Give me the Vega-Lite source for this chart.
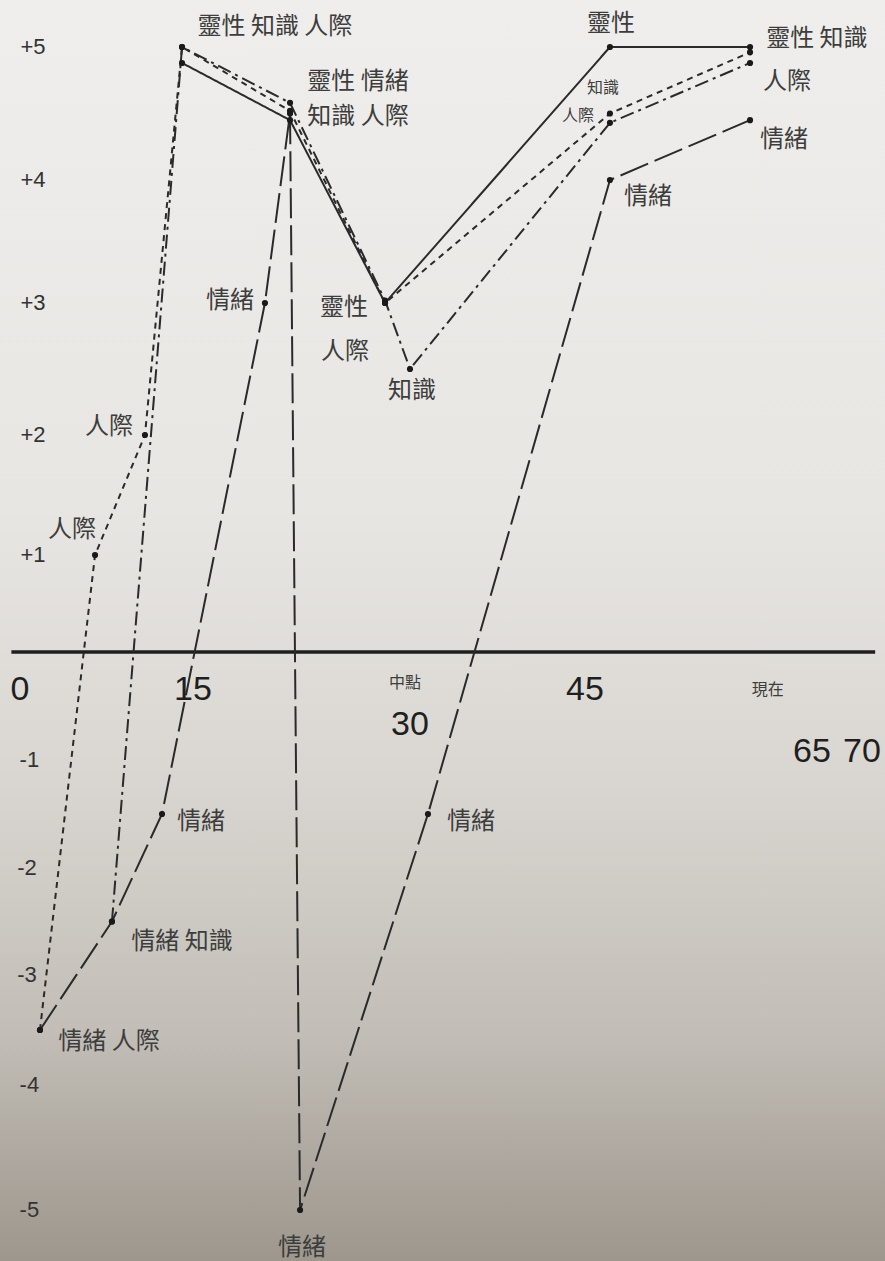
{
  "$schema": "https://vega.github.io/schema/vega-lite/v6.json",
  "width": 885,
  "height": 1261,
  "autosize": {"type": "none"},
  "padding": 0,
  "background": "#dcd9d4",
  "config": {
    "axis": {"disable": true},
    "view": {
      "stroke": null,
      "fill": {
        "gradient": "linear", "x1": 0, "y1": 0, "x2": 0, "y2": 1,
        "stops": [
          {"offset": 0, "color": "#efeeec"},
          {"offset": 0.4, "color": "#e8e6e3"},
          {"offset": 0.62, "color": "#d9d6d1"},
          {"offset": 0.82, "color": "#c2bdb6"},
          {"offset": 1, "color": "#9d978d"}
        ]
      }
    }
  },
  "datasets": {
    "axisline": [
      {"from": -0.3, "to": 71.4, "level": 0}
    ],
    "series": [
      {"series": "靈性", "age": 13.92, "value": 4.88},
      {"series": "靈性", "age": 21.63, "value": 4.45},
      {"series": "靈性", "age": 28.26, "value": 3.0},
      {"series": "靈性", "age": 47.17, "value": 5.0},
      {"series": "靈性", "age": 59.35, "value": 5.0},
      {"series": "知識", "age": 8.08, "value": -2.5},
      {"series": "知識", "age": 13.92, "value": 5.0},
      {"series": "知識", "age": 21.63, "value": 4.58},
      {"series": "知識", "age": 28.26, "value": 3.02},
      {"series": "知識", "age": 30.0, "value": 2.5},
      {"series": "知識", "age": 47.17, "value": 4.43},
      {"series": "知識", "age": 59.35, "value": 4.88},
      {"series": "人際", "age": 2.08, "value": -3.5},
      {"series": "人際", "age": 6.67, "value": 1.0},
      {"series": "人際", "age": 10.83, "value": 2.0},
      {"series": "人際", "age": 13.92, "value": 5.0},
      {"series": "人際", "age": 21.63, "value": 4.52},
      {"series": "人際", "age": 28.26, "value": 3.0},
      {"series": "人際", "age": 47.17, "value": 4.5},
      {"series": "人際", "age": 59.35, "value": 4.96},
      {"series": "情緒", "age": 2.08, "value": -3.5},
      {"series": "情緒", "age": 8.08, "value": -2.5},
      {"series": "情緒", "age": 12.25, "value": -1.5},
      {"series": "情緒", "age": 19.88, "value": 3.0},
      {"series": "情緒", "age": 21.63, "value": 4.5},
      {"series": "情緒", "age": 22.33, "value": -5.0},
      {"series": "情緒", "age": 31.54, "value": -1.5},
      {"series": "情緒", "age": 47.17, "value": 4.0},
      {"series": "情緒", "age": 59.35, "value": 4.45}
    ],
    "labels": [
      {"label": "靈性 知識 人際", "age": 20.58, "value": 5.15, "kind": "pt"},
      {"label": "靈性 情緒", "age": 26.37, "value": 4.74, "kind": "pt"},
      {"label": "知識 人際", "age": 26.37, "value": 4.47, "kind": "pt"},
      {"label": "情緒", "age": 17.44, "value": 3.02, "kind": "pt"},
      {"label": "靈性", "age": 25.4, "value": 2.96, "kind": "pt"},
      {"label": "人際", "age": 25.47, "value": 2.63, "kind": "pt"},
      {"label": "知識", "age": 30.17, "value": 2.33, "kind": "pt"},
      {"label": "靈性", "age": 47.26, "value": 5.17, "kind": "pt"},
      {"label": "情緒", "age": 50.48, "value": 3.86, "kind": "pt"},
      {"label": "靈性 知識", "age": 65.2, "value": 5.06, "kind": "pt"},
      {"label": "人際", "age": 62.57, "value": 4.74, "kind": "pt"},
      {"label": "情緒", "age": 62.3, "value": 4.3, "kind": "pt"},
      {"label": "人際", "age": 7.83, "value": 2.06, "kind": "pt"},
      {"label": "人際", "age": 4.75, "value": 1.21, "kind": "pt"},
      {"label": "情緒", "age": 15.42, "value": -1.57, "kind": "pt"},
      {"label": "情緒 知識", "age": 13.92, "value": -2.69, "kind": "pt"},
      {"label": "情緒 人際", "age": 7.83, "value": -3.61, "kind": "pt"},
      {"label": "情緒", "age": 22.47, "value": -5.3, "kind": "pt"},
      {"label": "情緒", "age": 35.23, "value": -1.57, "kind": "pt"},
      {"label": "知識", "age": 46.57, "value": 4.69, "kind": "sm"},
      {"label": "人際", "age": 44.4, "value": 4.48, "kind": "sm"},
      {"label": "中點", "age": 29.65, "value": -0.29, "kind": "sm"},
      {"label": "現在", "age": 60.9, "value": -0.35, "kind": "sm"}
    ],
    "xticks": [
      {"label": "0", "age": 0.42, "value": -0.35},
      {"label": "15", "age": 14.83, "value": -0.35},
      {"label": "30", "age": 30.0, "value": -0.68},
      {"label": "45", "age": 45.0, "value": -0.35},
      {"label": "65", "age": 64.74, "value": -0.93},
      {"label": "70", "age": 70.0, "value": -0.93}
    ],
    "yticks": [
      {"label": "+5", "age": 1.5, "value": 5},
      {"label": "+4", "age": 1.5, "value": 4},
      {"label": "+3", "age": 1.5, "value": 3},
      {"label": "+2", "age": 1.5, "value": 2},
      {"label": "+1", "age": 1.5, "value": 1},
      {"label": "-1", "age": 1.2, "value": -1},
      {"label": "-2", "age": 1.0, "value": -2},
      {"label": "-3", "age": 1.0, "value": -3},
      {"label": "-4", "age": 1.2, "value": -4},
      {"label": "-5", "age": 1.2, "value": -5}
    ]
  },
  "layer": [
    {
      "data": {"name": "axisline"},
      "mark": {"type": "rule", "color": "#1e1e1e", "strokeWidth": 3.5},
      "encoding": {
        "x": {"field": "from", "type": "quantitative",
              "scale": {"domain": [0, 15, 30, 45, 65, 70], "range": [15, 195, 410, 585, 815, 862]}, "axis": null},
        "x2": {"field": "to"},
        "y": {"field": "level", "type": "quantitative",
              "scale": {"domain": [-5, -4, -3, -2, -1, 0, 1, 2, 3, 4, 5], "range": [1210, 1085, 975, 868, 760, 652, 555, 435, 303, 180, 47]}, "axis": null}
      }
    },
    {
      "data": {"name": "series"},
      "mark": {"type": "line", "color": "#2a2a2a", "strokeWidth": 2},
      "encoding": {
        "x": {"field": "age", "type": "quantitative", "axis": null},
        "y": {"field": "value", "type": "quantitative", "axis": null},
        "detail": {"field": "series"},
        "strokeDash": {"field": "series", "type": "nominal", "legend": null,
          "scale": {"domain": ["靈性", "知識", "人際", "情緒"], "range": [[1, 0], [14, 5, 3, 5], [6, 5], [30, 7]]}}
      }
    },
    {
      "data": {"name": "series"},
      "mark": {"type": "point", "filled": true, "color": "#1a1a1a", "size": 38, "opacity": 1},
      "encoding": {
        "x": {"field": "age", "type": "quantitative"},
        "y": {"field": "value", "type": "quantitative"}
      }
    },
    {
      "data": {"name": "labels"},
      "transform": [{"filter": "datum.kind === 'pt'"}],
      "mark": {"type": "text", "font": "Noto Sans CJK TC", "fontSize": 24, "color": "#3d3d3d", "align": "center", "baseline": "middle"},
      "encoding": {
        "x": {"field": "age", "type": "quantitative"},
        "y": {"field": "value", "type": "quantitative"},
        "text": {"field": "label"}
      }
    },
    {
      "data": {"name": "labels"},
      "transform": [{"filter": "datum.kind === 'sm'"}],
      "mark": {"type": "text", "font": "Noto Sans CJK TC", "fontSize": 16, "color": "#3d3d3d", "align": "center", "baseline": "middle"},
      "encoding": {
        "x": {"field": "age", "type": "quantitative"},
        "y": {"field": "value", "type": "quantitative"},
        "text": {"field": "label"}
      }
    },
    {
      "data": {"name": "xticks"},
      "mark": {"type": "text", "font": "Liberation Sans", "fontSize": 34, "color": "#1f1f1f", "align": "center", "baseline": "middle"},
      "encoding": {
        "x": {"field": "age", "type": "quantitative"},
        "y": {"field": "value", "type": "quantitative"},
        "text": {"field": "label"}
      }
    },
    {
      "data": {"name": "yticks"},
      "mark": {"type": "text", "font": "Liberation Sans", "fontSize": 22, "color": "#333333", "align": "center", "baseline": "middle"},
      "encoding": {
        "x": {"field": "age", "type": "quantitative"},
        "y": {"field": "value", "type": "quantitative"},
        "text": {"field": "label"}
      }
    }
  ]
}
